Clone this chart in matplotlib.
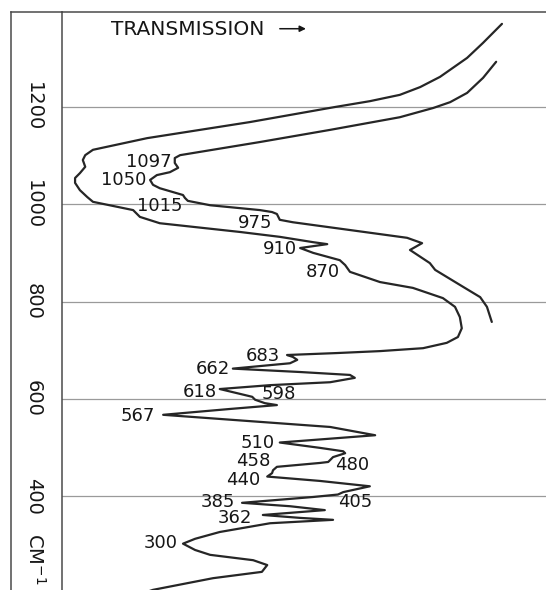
import matplotlib
matplotlib.use('Agg')
import matplotlib.pyplot as plt
from matplotlib.lines import Line2D
from matplotlib.transforms import blended_transform_factory

# ---- data (wavenumber in cm-1, transmission in arbitrary % of panel width) ----
curve1_wn = [1371, 1332, 1301, 1262, 1241, 1225, 1212, 1200, 1169, 1136, 1112, 1101,
             1091, 1077, 1064, 1054, 1044, 1029, 1015, 1005, 988, 974,
             961, 943, 933, 922, 918, 910, 900, 885, 875, 861,
             840, 828, 807, 789, 768, 745, 727, 715, 704, 698,
             694, 690, 686, 680, 673, 662, 655, 649, 643, 634,
             628, 620, 610, 604, 598, 591, 587, 579, 567, 554,
             542, 525, 510, 499, 492, 488, 480, 470, 468, 460,
             453, 447, 440, 431, 420, 408, 403, 398, 386, 379,
             371, 361, 355, 351, 344, 326, 312, 302, 289, 279,
             268, 258, 244, 231, 207, 198]
curve1_T = [90.9, 87.0, 83.7, 78.1, 74.0, 69.8, 63.6, 56.4, 38.8, 17.6, 6.4, 4.8,
            4.3, 4.8, 3.7, 2.7, 2.7, 3.7, 5.2, 6.4, 14.7, 16.1,
            20.2, 36.8, 45.0, 51.9, 54.8, 49.2, 51.9, 57.4, 58.5, 59.5,
            65.7, 72.5, 78.7, 81.2, 82.2, 82.6, 81.8, 79.5, 74.6, 65.7,
            56.8, 46.5, 47.7, 48.6, 47.1, 35.3, 49.2, 59.5, 60.5, 55.4,
            43.0, 32.6, 36.8, 39.3, 39.9, 41.9, 44.4, 34.7, 20.9, 38.8,
            55.4, 64.7, 45.0, 53.3, 58.1, 58.5, 56.0, 55.0, 53.3, 44.4,
            43.6, 43.4, 42.4, 53.3, 63.6, 58.1, 57.0, 51.9, 37.2, 47.1,
            54.3, 41.5, 49.2, 56.0, 43.0, 32.6, 27.5, 25.0, 27.5, 30.6,
            39.5, 42.4, 41.3, 31.2, 18.8, 16.1]

curve2_wn = [1293, 1260, 1229, 1210, 1198, 1179, 1153, 1128, 1101, 1095,
             1085, 1075, 1066, 1060, 1050, 1040, 1033, 1019, 1013, 1007,
             998, 988, 984, 980, 968, 963, 947, 931, 920, 906,
             879, 865, 830, 809, 789, 758]
curve2_T = [89.7, 87.0, 83.7, 80.2, 76.7, 69.8, 55.4, 40.9, 24.4, 23.3,
            23.3, 24.0, 22.3, 19.6, 18.2, 18.8, 20.2, 25.0, 25.4, 26.0,
            30.6, 40.9, 43.4, 44.4, 45.0, 47.7, 59.5, 71.3, 74.4, 71.9,
            76.0, 77.1, 82.9, 86.4, 87.8, 88.8]

peak_labels = ['1097', '1050', '1015', '975', '910', '870', '683', '662',
               '618', '598', '567', '510', '458', '480', '440', '405',
               '385', '362', '300']

tick_values = [400, 600, 800, 1000, 1200]
tick_labels = ['400', '600', '800', '1000', '1200']

# ---- layout of label anchors (T, wn, horizontal alignment) ----
label_pos = [(22.7, 1087, 'right'), (17.4, 1050, 'right'), (20.2, 997, 'center'),
             (43.4, 961, 'right'), (48.6, 909, 'right'), (57.4, 861, 'right'),
             (45.0, 688, 'right'), (34.7, 661, 'right'), (32.0, 614, 'right'),
             (41.3, 610, 'left'), (19.2, 564, 'right'), (44.0, 509, 'right'),
             (43.0, 472, 'right'), (56.4, 464, 'left'), (40.9, 433, 'right'),
             (57.0, 388, 'left'), (35.7, 388, 'right'), (39.3, 355, 'right'),
             (23.8, 303, 'right')]

W, H = 546, 590
fig = plt.figure(figsize=(W / 100, H / 100), dpi=100, facecolor='white')
top = 1 - 12 / H
ax = fig.add_axes([62 / W, 0, 484 / W, top])
ax.set_xlim(0, 100)
ax.set_ylim(206.7, 1395.4)

ink = '#262626'
frame = '#4a4a4a'
txtc = '#161616'

ax.plot(curve1_T, curve1_wn, color=ink, lw=1.6, solid_joinstyle='round', solid_capstyle='round')
ax.plot(curve2_T, curve2_wn, color=ink, lw=1.6, solid_joinstyle='round', solid_capstyle='round')

for s in ['right', 'bottom']:
    ax.spines[s].set_visible(False)
for s in ['left', 'top']:
    ax.spines[s].set_color(frame)
    ax.spines[s].set_linewidth(1.1)

ax.set_xticks([])
ax.set_yticks(tick_values)
ax.set_yticklabels(tick_labels)
ax.tick_params(axis='y', length=0, pad=20.5, labelsize=14, labelcolor=txtc)
for lbl in ax.get_yticklabels():
    lbl.set_rotation(-90)
    lbl.set_ha('center')
    lbl.set_va('center')
ax.yaxis.grid(True, color='#9a9a9a', lw=0.9)
ax.set_axisbelow(True)

for txt, (tx, wy, ha) in zip(peak_labels, label_pos):
    ax.text(tx, wy, txt, ha=ha, va='center', fontsize=13, color=txtc,
            family='DejaVu Sans')

ax.text(10.1, 1359, 'TRANSMISSION', ha='left', va='center', fontsize=14.5,
        color=txtc)
ax.annotate('', xy=(50.4, 1361), xytext=(45.0, 1361),
            arrowprops=dict(arrowstyle='-|>', color=txtc, lw=1.1,
                            mutation_scale=9, shrinkA=0, shrinkB=0))

trans = blended_transform_factory(ax.transAxes, ax.transData)
ax.text(-27 / 484, 272, 'CM$^{-1}$', transform=trans, rotation=-90, ha='center',
        va='center', fontsize=14, color=txtc)

# outer frame
fig.add_artist(Line2D([11 / W, 11 / W], [0, top], transform=fig.transFigure,
                      color=frame, lw=1.1))
fig.add_artist(Line2D([11 / W, 62 / W], [top, top], transform=fig.transFigure,
                      color=frame, lw=1.1))

fig.savefig('out.png', dpi=100, facecolor='white')
